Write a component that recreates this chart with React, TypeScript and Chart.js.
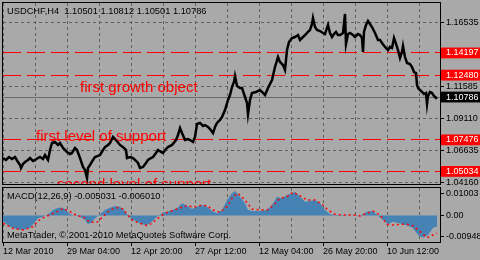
import { useEffect, useRef } from "react";
import { Chart, registerables } from "chart.js";

Chart.register(...registerables);

// ---------- data ----------
const titleText = "USDCHF,H4  1.10501 1.10812 1.10501 1.10786";
const macdLabelText = "MACD(12,26,9) -0.005031 -0.006010";
const copyrightText = "MetaTrader, \u00a9 2001-2010 MetaQuotes Software Corp.";

// bar index (H4 bars from 12 Mar 2010) and close price
const priceBars = [
  0, 3, 6, 9, 12, 15, 17, 18, 20, 22,
  25, 27, 30, 32, 35, 37, 40, 42, 45, 47,
  49, 52, 55, 57, 60, 64, 67, 69, 72, 74,
  77, 80, 82, 84, 85, 87, 90, 92, 95, 97,
  100, 102, 105, 107, 110, 113, 117, 121, 123, 124,
  127, 130, 132, 135, 137, 140, 143, 145, 148, 150,
  153, 155, 158, 160, 163, 165, 169, 173, 175, 177,
  179, 182, 185, 187, 190, 192, 194, 197, 200, 202,
  205, 207, 210, 212, 214, 217, 219, 222, 225, 227,
  229, 231, 232, 234, 237, 239, 242, 244, 245, 247,
  249, 253, 257, 260, 262, 265, 269, 272, 275, 277,
  280, 282, 284, 286, 289, 292, 295, 297, 300, 302,
  305, 307, 309, 310, 312, 314, 317, 320, 322, 325,
  327, 329, 331, 333, 335, 337, 340, 342, 343, 345,
  347, 350, 352, 355, 357, 359, 360, 361, 363, 365,
  367, 369, 372, 375, 377, 379, 382, 385, 387, 389,
  391, 393, 395, 397, 399, 400, 402, 404, 407, 409,
  411, 413, 414, 415, 417, 419, 421, 423, 424, 425,
  427, 429, 431, 433, 434,
];
const priceClose = [
  1.0607, 1.0592, 1.0615, 1.06, 1.0615, 1.0576, 1.0553, 1.053, 1.0561, 1.0576,
  1.0592, 1.0607, 1.0584, 1.0592, 1.0607, 1.0615, 1.06, 1.063, 1.0592, 1.0669,
  1.0723, 1.0731, 1.0708, 1.0723, 1.0685, 1.0654, 1.0638, 1.0646, 1.0685, 1.0669,
  1.0607, 1.0538, 1.0514, 1.0452, 1.053, 1.0553, 1.0592, 1.0615, 1.0623, 1.063,
  1.0669, 1.0692, 1.0708, 1.0723, 1.077, 1.0746, 1.0708, 1.0685, 1.0669, 1.0607,
  1.0615, 1.0607, 1.0592, 1.0569, 1.053, 1.0538, 1.0569, 1.0592, 1.0607, 1.0615,
  1.0646, 1.0669, 1.0654, 1.0646, 1.0677, 1.0692, 1.0708, 1.0746, 1.0785, 1.0839,
  1.08, 1.0746, 1.0754, 1.0746, 1.0731, 1.077, 1.087, 1.0878, 1.0855, 1.0862,
  1.0847, 1.0831, 1.08, 1.0847, 1.0878, 1.0901, 1.0924, 1.0978, 1.1056, 1.1094,
  1.1156, 1.1195, 1.1241, 1.1164, 1.1149, 1.1149, 1.1079, 1.1033, 1.0947, 1.1056,
  1.111, 1.1118, 1.1133, 1.111, 1.1094, 1.1149, 1.121, 1.1311, 1.1388, 1.135,
  1.1326, 1.1288, 1.1442, 1.1504, 1.1535, 1.1543, 1.1558, 1.152, 1.1543, 1.1558,
  1.1582, 1.1597, 1.1644, 1.169, 1.162, 1.1597, 1.1589, 1.1574, 1.1566, 1.1636,
  1.1574, 1.1543, 1.1566, 1.1582, 1.1558, 1.1558, 1.1574, 1.1721, 1.1489, 1.1566,
  1.1574, 1.1558, 1.1543, 1.1566, 1.1558, 1.1535, 1.1427, 1.1582, 1.1636, 1.1667,
  1.1644, 1.162, 1.1574, 1.152, 1.152, 1.1497, 1.1466, 1.1442, 1.1466, 1.1458,
  1.1535, 1.1489, 1.1442, 1.138, 1.1427, 1.1473, 1.1388, 1.1342, 1.1334, 1.1311,
  1.1272, 1.1264, 1.1172, 1.1149, 1.1133, 1.1118, 1.1102, 1.111, 1.1025, 1.1087,
  1.1118, 1.111, 1.1087, 1.1071, 1.1079,
];

const gridBars = [0, 32, 64, 96, 128, 160, 192, 224, 256, 288, 320, 352, 384, 416];
const dateTickBars = [0, 64, 128, 192, 256, 320, 384];
const dateTickLabels = [
  "12 Mar 2010",
  "29 Mar 04:00",
  "12 Apr 20:00",
  "27 Apr 12:00",
  "12 May 04:00",
  "26 May 20:00",
  "10 Jun 12:00",
];

const priceTicks = [1.16535, 1.14197, 1.1248, 1.11585, 1.10786, 1.0911, 1.07476, 1.06635, 1.05034, 1.0416];
const levelPrices = [1.14197, 1.1248, 1.07476, 1.05034];
const currentPrice = 1.10786;

const noteTexts = ["first growth object", "first level of support", "second level of support"];
const noteBars = [77, 33, 54];
const notePrices = [1.1121, 1.0739, 1.0367];

const macdBars = [
  0, 7, 14, 20, 27, 32, 35, 40, 45, 50,
  55, 60, 64, 67, 72, 77, 82, 85, 89, 92,
  97, 102, 107, 112, 117, 122, 125, 129, 134, 139,
  144, 149, 154, 159, 164, 169, 174, 179, 184, 189,
  194, 199, 204, 209, 214, 219, 224, 229, 232, 237,
  242, 245, 250, 257, 264, 269, 274, 279, 284, 289,
  292, 297, 302, 307, 312, 317, 322, 327, 332, 340,
  350, 357, 364, 370, 375, 380, 385, 390, 395, 400,
  405, 410, 415, 420, 425, 430, 434,
];
const macdValues = [
  -0.00273, -0.00509, -0.00627, -0.00659, -0.00555, -0.00309, -0.00127, -0.00055, 0.00055, 0.0025,
  0.00355, 0.00355, 0.00205, 0.00055, -0.00009, -0.00055, -0.00205, -0.004, -0.00309, -0.00127,
  0.00055, 0.0025, 0.00355, 0.00432, 0.004, 0.00205, -0.00009, -0.00173, -0.00282, -0.004,
  -0.00432, -0.00282, -0.00055, 0.001, 0.00173, 0.00236, 0.00327, 0.00555, 0.00445, 0.00295,
  0.004, 0.00477, 0.004, 0.00205, 0.001, 0.0025, 0.00705, 0.01009, 0.01114, 0.00855,
  0.00555, 0.0025, 0.00205, 0.00205, 0.0025, 0.00477, 0.00855, 0.00782, 0.00932, 0.01009,
  0.01082, 0.00855, 0.00627, 0.00659, 0.00705, 0.00555, 0.0025, 0.00055, 0.00023, 0.00023,
  -0.00009, -0.00009, 0.00173, 0.00205, -0.00009, -0.00205, -0.004, -0.00282, -0.00341, -0.004,
  -0.00464, -0.00582, -0.00886, -0.01009, -0.00886, -0.00555, -0.00503,
];

const signalBars = [
  0, 10, 20, 30, 35, 42, 47, 54, 60, 67,
  74, 80, 87, 94, 100, 107, 114, 120, 125, 130,
  137, 144, 149, 155, 162, 170, 179, 185, 190, 197,
  204, 210, 217, 224, 230, 235, 242, 249, 257, 264,
  270, 277, 284, 290, 297, 304, 312, 319, 325, 332,
  340, 350, 357, 364, 370, 377, 384, 390, 397, 404,
  410, 417, 424, 430, 434,
];
const signalValues = [
  -0.00355, -0.00582, -0.00659, -0.00509, -0.0025, -0.00055, 0.00023, 0.00173, 0.00327, 0.00173,
  -0.00009, -0.00055, -0.00309, -0.00309, -0.00055, 0.0025, 0.00355, 0.00295, 0, -0.00227,
  -0.00355, -0.00464, -0.00355, -0.00127, 0.001, 0.00227, 0.00377, 0.00455, 0.00377, 0.00455,
  0.00445, 0.0025, 0.00145, 0.004, 0.00855, 0.01009, 0.00705, 0.00295, 0.0025, 0.0025,
  0.00445, 0.00782, 0.00855, 0.01055, 0.009, 0.00705, 0.00705, 0.00509, 0.0025, 0.00055,
  0.00023, 0.00023, -0.00023, 0.001, 0.00205, 0.00023, -0.004, -0.00432, -0.004, -0.004,
  -0.00464, -0.00736, -0.01009, -0.00886, -0.00809,
];

const macdTicks = [0.01003, 0, -0.00948];
const macdTickLabels = ["0.01003", "0.00", "-0.00948"];

// ---------- style ----------
const BG = "#a9a9a9";
const GRID = "#606060";
const FONT = '"Liberation Sans", Arial, sans-serif';
const RED = "#ff0000";

const near = (a: number, b: number) => Math.abs(a - b) < 1e-7;
const isLevel = (v: number) => levelPrices.some((p) => near(p, v));
const isCurrent = (v: number) => near(v, currentPrice);

const noPad = (s: any) => {
  s.paddingTop = 0;
  s.paddingBottom = 0;
  s.paddingLeft = 0;
  s.paddingRight = 0;
};

const framePlugin = {
  id: "frame",
  afterDraw(chart: any) {
    const { ctx, chartArea: a } = chart;
    ctx.save();
    ctx.strokeStyle = "#000";
    ctx.lineWidth = 1;
    ctx.strokeRect(a.left - 0.5, a.top - 0.5, a.right - a.left + 1, a.bottom - a.top + 1);
    ctx.restore();
  },
};

const mainTextPlugin = {
  id: "mainText",
  afterDatasetsDraw(chart: any) {
    const { ctx, chartArea: a, scales } = chart;
    ctx.save();
    ctx.beginPath();
    ctx.rect(a.left, a.top, a.right - a.left, a.bottom - a.top);
    ctx.clip();
    ctx.fillStyle = RED;
    ctx.font = `15px ${FONT}`;
    ctx.textBaseline = "alphabetic";
    ctx.textAlign = "left";
    noteTexts.forEach((t, i) => {
      ctx.fillText(t, scales.x.getPixelForValue(noteBars[i]), scales.y.getPixelForValue(notePrices[i]));
    });
    ctx.fillStyle = "#000";
    ctx.font = `9.3px ${FONT}`;
    ctx.textBaseline = "middle";
    ctx.fillText(titleText, 7, 11);
    ctx.restore();
  },
};

const macdTextPlugin = {
  id: "macdText",
  afterDraw(chart: any) {
    const { ctx, chartArea: a } = chart;
    ctx.save();
    ctx.fillStyle = "#000";
    ctx.font = `9.3px ${FONT}`;
    ctx.textBaseline = "middle";
    ctx.textAlign = "left";
    ctx.fillText(macdLabelText, 7, a.top + 8.5);
    ctx.fillText(copyrightText, 7, a.top + 47);
    ctx.restore();
  },
};

function MainChart() {
  const ref = useRef<HTMLCanvasElement>(null);
  useEffect(() => {
    const chart = new Chart(ref.current!, {
      type: "line",
      data: {
        datasets: [
          {
            data: priceBars.map((b, i) => ({ x: b, y: priceClose[i] })),
            borderColor: "#000",
            borderWidth: 2.5,
            pointRadius: 0,
            tension: 0,
          },
        ],
      },
      options: {
        animation: false,
        responsive: false,
        maintainAspectRatio: false,
        events: [],
        layout: { padding: { left: 3, top: 3, bottom: 6, right: 0 } },
        plugins: { legend: { display: false }, tooltip: { enabled: false } },
        scales: {
          x: {
            type: "linear",
            min: 0,
            max: 437,
            afterBuildTicks: (s: any) => {
              s.ticks = gridBars.map((v) => ({ value: v }));
            },
            afterFit: (s: any) => {
              s.height = 0;
              noPad(s);
            },
            ticks: { display: false, autoSkip: false },
            grid: { color: GRID, lineWidth: 1, drawTicks: false },
            border: { display: false, dash: [3, 3] },
          },
          y: {
            type: "linear",
            position: "right",
            min: 1.04061,
            max: 1.18059,
            afterBuildTicks: (s: any) => {
              s.ticks = priceTicks.map((v) => ({ value: v }));
            },
            afterFit: (s: any) => {
              s.width = 40;
              noPad(s);
            },
            ticks: {
              autoSkip: false,
              padding: 2,
              font: { family: FONT, size: 9 },
              color: (c: any) => (c.tick && (isLevel(c.tick.value) || isCurrent(c.tick.value)) ? "#fff" : "#000"),
              showLabelBackdrop: (c: any) => !!(c.tick && (isLevel(c.tick.value) || isCurrent(c.tick.value))),
              backdropColor: (c: any) => (c.tick && isCurrent(c.tick.value) ? "#000" : RED),
              backdropPadding: { left: 5, right: 3, top: 0, bottom: 0 },
              callback: (v: any) => Number(v).toFixed(5),
            },
            grid: {
              color: (c: any) => {
                if (!c.tick) return GRID;
                if (isLevel(c.tick.value)) return RED;
                if (isCurrent(c.tick.value)) return "#6a6a6a";
                return GRID;
              },
              lineWidth: 1,
              drawTicks: true,
              tickLength: 4,
              tickColor: "#000",
            },
            border: {
              display: false,
              dash: (c: any) => {
                if (!c.tick) return [];
                if (isLevel(c.tick.value)) return [18, 6];
                if (isCurrent(c.tick.value)) return [];
                return [3, 3];
              },
            },
          },
        },
      },
      plugins: [mainTextPlugin, framePlugin],
    } as any);
    return () => chart.destroy();
  }, []);
  return (
    <canvas
      ref={ref}
      width={480}
      height={190}
      style={{ position: "absolute", left: 0, top: 0, display: "block" }}
    />
  );
}

function MacdChart() {
  const ref = useRef<HTMLCanvasElement>(null);
  useEffect(() => {
    const chart = new Chart(ref.current!, {
      type: "line",
      data: {
        datasets: [
          {
            data: signalBars.map((b, i) => ({ x: b, y: signalValues[i] })),
            borderColor: RED,
            borderWidth: 1.5,
            borderDash: [2, 3],
            pointRadius: 0,
            fill: false,
            tension: 0,
          },
          {
            data: macdBars.map((b, i) => ({ x: b, y: macdValues[i] })),
            borderWidth: 0,
            borderColor: "rgba(0,0,0,0)",
            backgroundColor: "#4682b4",
            pointRadius: 0,
            fill: "origin",
            tension: 0,
          },
        ],
      },
      options: {
        animation: false,
        responsive: false,
        maintainAspectRatio: false,
        events: [],
        layout: { padding: { left: 3, top: 2, bottom: 0, right: 0 } },
        plugins: { legend: { display: false }, tooltip: { enabled: false } },
        scales: {
          x: {
            type: "linear",
            min: 0,
            max: 437,
            afterBuildTicks: (s: any) => {
              s.ticks = gridBars.map((v) => ({ value: v }));
            },
            afterFit: (s: any) => {
              s.height = 18;
              noPad(s);
            },
            ticks: {
              autoSkip: false,
              maxRotation: 0,
              minRotation: 0,
              align: "start",
              padding: 0,
              color: "#000",
              font: { family: FONT, size: 9 },
              callback: (v: any) => {
                const k = dateTickBars.indexOf(Number(v));
                return k >= 0 ? dateTickLabels[k] : "";
              },
            },
            grid: {
              color: GRID,
              lineWidth: 1,
              drawTicks: true,
              tickLength: 4,
              tickColor: (c: any) =>
                c.tick && dateTickBars.indexOf(c.tick.value) >= 0 ? "#000" : "rgba(0,0,0,0)",
            },
            border: { display: false, dash: [3, 3] },
          },
          y: {
            type: "linear",
            position: "right",
            min: -0.012045,
            max: 0.0125,
            afterBuildTicks: (s: any) => {
              s.ticks = macdTicks.map((v) => ({ value: v }));
            },
            afterFit: (s: any) => {
              s.width = 40;
              noPad(s);
            },
            ticks: {
              autoSkip: false,
              padding: 2,
              color: "#000",
              font: { family: FONT, size: 9 },
              callback: (v: any) => {
                const k = macdTicks.findIndex((t) => near(t, Number(v)));
                return k >= 0 ? macdTickLabels[k] : "";
              },
            },
            grid: { drawOnChartArea: false, drawTicks: true, tickLength: 4, tickColor: "#000" },
            border: { display: false },
          },
        },
      },
      plugins: [macdTextPlugin, framePlugin],
    } as any);
    return () => chart.destroy();
  }, []);
  return (
    <canvas
      ref={ref}
      width={480}
      height={74}
      style={{ position: "absolute", left: 0, top: 186, display: "block" }}
    />
  );
}

export default function App() {
  return (
    <div
      style={{
        position: "fixed",
        left: 0,
        top: 0,
        width: 480,
        height: 260,
        background: BG,
        overflow: "hidden",
      }}
    >
      <MainChart />
      <MacdChart />
    </div>
  );
}
